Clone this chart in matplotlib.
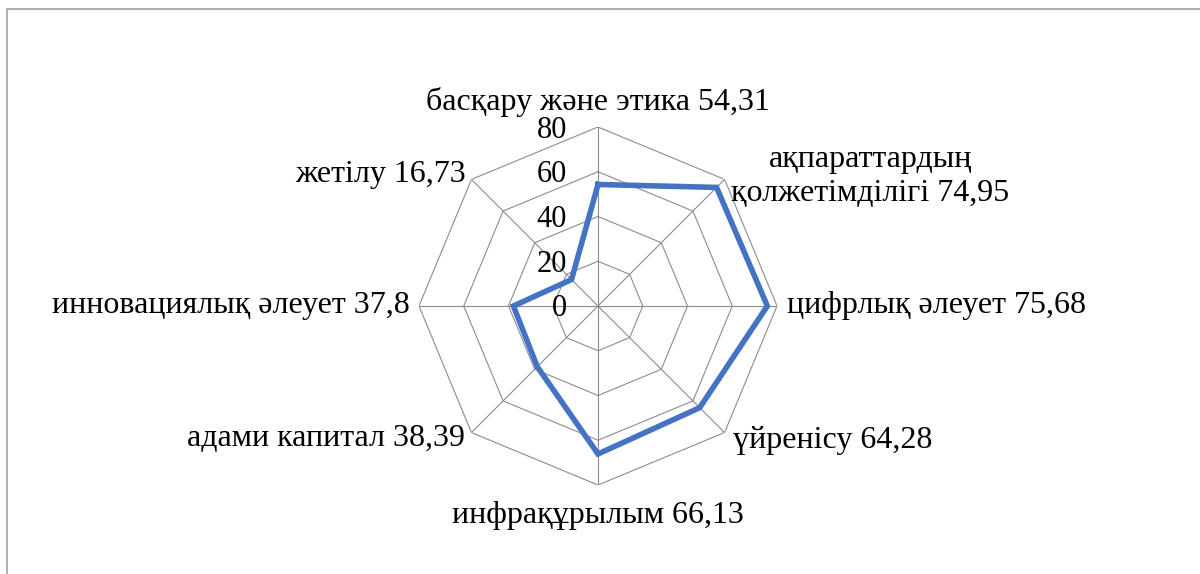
import numpy as np
import matplotlib.pyplot as plt
from matplotlib.patches import Rectangle

plt.rcParams['font.family'] = ['Liberation Serif', 'DejaVu Serif']

categories = [
    'басқару және этика',
    'ақпараттардың\nқолжетімділігі',
    'цифрлық әлеует',
    'үйренісу',
    'инфрақұрылым',
    'адами капитал',
    'инновациялық әлеует',
    'жетілу',
]
values = [54.31, 74.95, 75.68, 64.28, 66.13, 38.39, 37.8, 16.73]
value_labels = ['54,31', '74,95', '75,68', '64,28', '66,13', '38,39', '37,8', '16,73']
rings = [20, 40, 60, 80]
ring_labels = ['0', '20', '40', '60', '80']

# label placement relative to outer vertex (pixels) and alignment
label_style = [
    ((0, 25), 'center'),
    ((146, 3), 'center'),
    ((10, 0), 'left'),
    ((8, -8), 'left'),
    ((0, -31), 'center'),
    ((-6, -6), 'right'),
    ((-9, 0), 'right'),
    ((-6, 5), 'right'),
]

fig = plt.figure(figsize=(12, 5.74), dpi=100)
ax = fig.add_axes([419 / 1200, 89 / 574, 358 / 1200, 358 / 574], projection='polar')
ax.set_theta_offset(np.pi / 2)
ax.set_theta_direction(-1)
ax.set_ylim(0, 80)
ax.grid(False)
ax.spines['polar'].set_visible(False)
ax.set_xticks([])
ax.set_yticks([])
ax.patch.set_alpha(0)

n = len(categories)
angles = np.linspace(0, 2 * np.pi, n, endpoint=False)
closed = np.concatenate([angles, angles[:1]])

grid_color = '#8c8c8c'
for r in rings:
    ax.plot(closed, [r] * (n + 1), color=grid_color, lw=0.8, zorder=1)
for a in angles:
    ax.plot([a, a], [0, rings[-1]], color=grid_color, lw=0.8, zorder=1)

ax.plot(closed, values + values[:1], color='#4472C4', lw=4, zorder=3,
        solid_joinstyle='miter')

for r, lab in zip([0] + rings, ring_labels):
    ax.annotate(lab, xy=(0, r), xytext=(-31, -3), textcoords='offset pixels',
                ha='right', va='center', fontsize=22, color='black', zorder=4)

for a, cat, val, (off, ha) in zip(angles, categories, value_labels, label_style):
    ax.annotate(f'{cat} {val}', xy=(a, rings[-1]), xytext=off,
                textcoords='offset pixels', ha=ha, va='center', fontsize=23,
                multialignment='center', linespacing=1.2, color='black',
                annotation_clip=False)

fig.patches.append(Rectangle((7 / 1200, -0.01), 1.2, 1 - 9 / 574 + 0.01,
                             transform=fig.transFigure, fill=False,
                             edgecolor='#a0a0a0', lw=1.2))

fig.savefig('out.png', dpi=100, facecolor='white')
